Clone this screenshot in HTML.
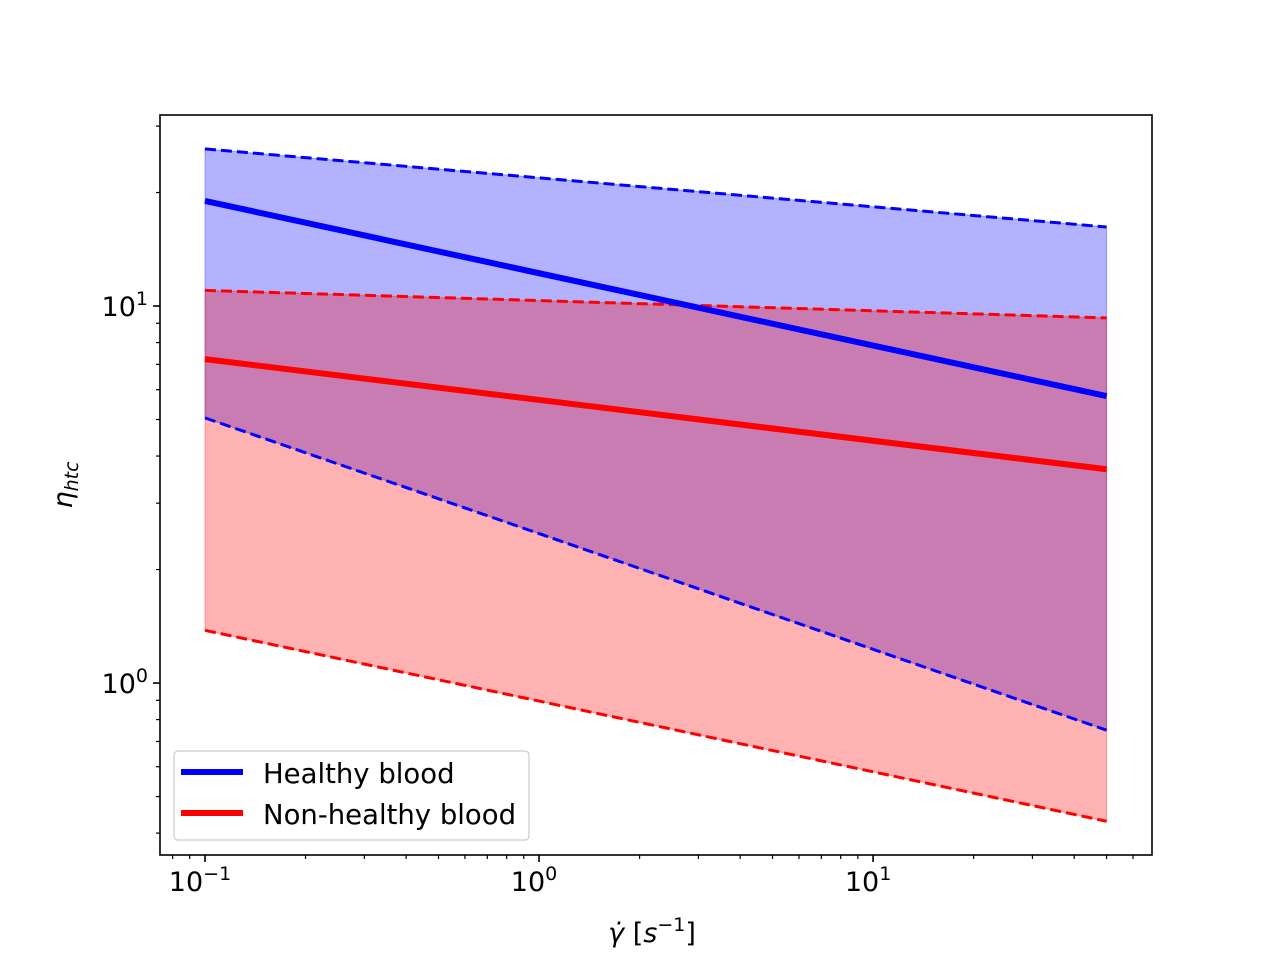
<!DOCTYPE html>
<html><head><meta charset="utf-8"><style>
html,body{margin:0;padding:0;background:#fff;}
svg{display:block;font-family:"DejaVu Sans","Liberation Sans",sans-serif;}
</style></head><body>
<svg id="chart" width="1280" height="960" viewBox="0 0 1280 960" xmlns="http://www.w3.org/2000/svg">
<rect x="0" y="0" width="1280" height="960" fill="#fff"/>
<g id="plot"></g>
</svg>
<script>
const xVals = [0.1, 50];
const healthyMid = [19.0, 5.77];
const healthyHigh = [26.1, 16.2];
const healthyLow = [5.05, 0.75];
const sickMid = [7.23, 3.69];
const sickHigh = [11.0, 9.3];
const sickLow = [1.38, 0.43];
const xMajor = [0.1, 1, 10];
const xMajorLabels = ["10", "10", "10"];
const xMajorExp = ["\u22121", "0", "1"];
const yMajor = [1, 10];
const yMajorExp = ["0", "1"];

const NS = "http://www.w3.org/2000/svg";
const L = 160, R = 1152, T = 115, B = 855;
const xMin = -1.1347, xMax = 1.835, yMin = -0.456, yMax = 1.5066;
function xs(v){ return L + (Math.log10(v) - xMin) / (xMax - xMin) * (R - L); }
function ys(v){ return B - (Math.log10(v) - yMin) / (yMax - yMin) * (B - T); }
const g = document.getElementById('plot');
function mk(tag, attrs, parent){
  const e = document.createElementNS(NS, tag);
  for (const k in attrs) e.setAttribute(k, attrs[k]);
  (parent || g).appendChild(e);
  return e;
}
function band(lo, hi, color, name){
  let d = "";
  xVals.forEach((x,i)=>{ d += (i?"L":"M") + xs(x) + "," + ys(hi[i]); });
  for (let i = xVals.length-1; i>=0; i--) d += "L" + xs(xVals[i]) + "," + ys(lo[i]);
  const p = mk('path', {d: d + "Z", fill: color, 'fill-opacity': 0.3, stroke: color, 'stroke-opacity': 0.3});
  
  
}
function line(vals, color, w, dash, name){
  const pts = xVals.map((x,i)=> xs(x) + "," + ys(vals[i])).join(" ");
  const a = {points: pts, fill: "none", stroke: color, 'stroke-width': w};
  if (dash) a['stroke-dasharray'] = dash;
  const p = mk('polyline', a);
  
  
}
band(healthyLow, healthyHigh, "#0000ff", "healthy-band");
band(sickLow, sickHigh, "#ff0000", "non-healthy-band");
line(healthyHigh, "#0000ff", 3, "11,5", "healthy-upper-line");
line(healthyLow, "#0000ff", 3, "11,5", "healthy-lower-line");
line(sickHigh, "#ff0000", 3, "11,5", "non-healthy-upper-line");
line(sickLow, "#ff0000", 3, "11,5", "non-healthy-lower-line");
line(healthyMid, "#0000ff", 6, null, "healthy-mean-line");
line(sickMid, "#ff0000", 6, null, "non-healthy-mean-line");

const fr = mk('rect', {x:L, y:T, width:R-L, height:B-T, fill:"none", stroke:"#000", 'stroke-width':1.6});



for (let e=-2; e<=2; e++){
  for (let m=1; m<10; m++){
    const v = m*Math.pow(10,e), X = xs(v);
    if (X < L || X > R) continue;
    mk('line', {x1:X, x2:X, y1:B, y2:B+(m===1?7:4), stroke:"#000", 'stroke-width':m===1?1.6:1.2});
  }
}
xMajor.forEach((v,i)=>{
  const t = mk('text', {x:xs(v)-5, y:B+36, 'font-size':27, 'text-anchor':'middle'});
  
  
  t.textContent = xMajorLabels[i];
  const s = mk('tspan', {dy:-11, 'font-size':19}, t);
  s.textContent = xMajorExp[i];
});
for (let e=-2; e<=2; e++){
  for (let m=1; m<10; m++){
    const v = m*Math.pow(10,e), Y = ys(v);
    if (Y < T || Y > B) continue;
    mk('line', {x1:L, x2:L-(m===1?7:4), y1:Y, y2:Y, stroke:"#000", 'stroke-width':m===1?1.6:1.2});
  }
}
yMajor.forEach((v,i)=>{
  const t = mk('text', {x:L-12, y:ys(v)+10, 'font-size':27, 'text-anchor':'end'});
  
  
  t.textContent = "10";
  const s = mk('tspan', {dy:-11, 'font-size':19}, t);
  s.textContent = yMajorExp[i];
});
</script>
<svg style="position:absolute;left:0;top:0" width="1280" height="960" xmlns="http://www.w3.org/2000/svg">
<text x="652" y="942" font-size="27" text-anchor="middle" font-family="DejaVu Sans, sans-serif" font-style="italic">γ̇ <tspan font-style="normal">[</tspan>s<tspan dy="-11" font-size="19" font-style="normal">−1</tspan><tspan dy="11" font-style="normal">]</tspan></text>
<text transform="translate(72,485) rotate(-90)" font-size="27" text-anchor="middle" font-family="DejaVu Sans, sans-serif" font-style="italic">η<tspan dy="6" font-size="19">htc</tspan></text>
<g>
<rect x="174" y="751" width="355" height="89" rx="4" fill="#fff" fill-opacity="0.8" stroke="#ccc" stroke-width="1.2"/>
<line x1="181" x2="243" y1="772" y2="772" stroke="#0000ff" stroke-width="6"/>
<text x="263" y="783" font-size="27.5" font-family="DejaVu Sans, sans-serif">Healthy blood</text>
<line x1="181" x2="243" y1="813" y2="813" stroke="#ff0000" stroke-width="6"/>
<text x="263" y="824" font-size="27.5" font-family="DejaVu Sans, sans-serif">Non-healthy blood</text>
</g>
</svg>
</body></html>
